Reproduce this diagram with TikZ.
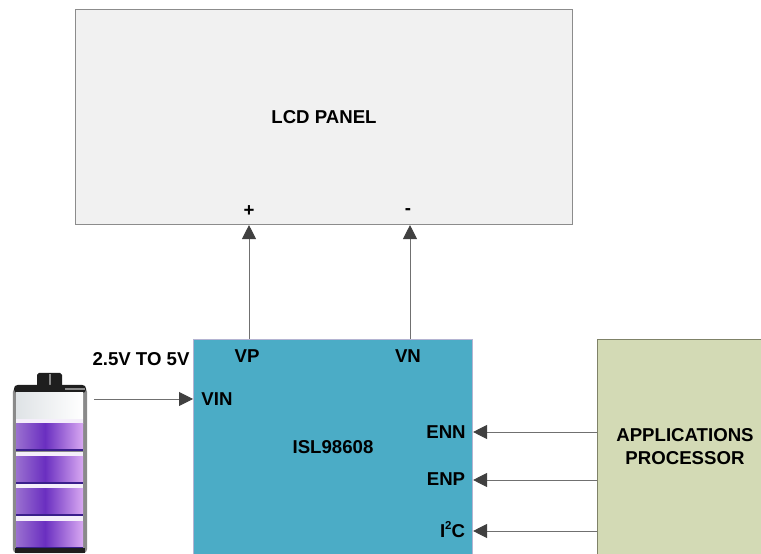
\documentclass[tikz,border=0pt]{standalone}
\usepackage{fontspec}
\setmainfont{Liberation Sans}
\usetikzlibrary{arrows.meta}
\definecolor{lcdgray}{HTML}{F1F1F1}
\definecolor{lcdline}{HTML}{8C8C8C}
\definecolor{islblue}{HTML}{4BACC6}
\definecolor{islline}{HTML}{B4B4D2}
\definecolor{apgreen}{HTML}{D3DAB5}
\definecolor{apline}{HTML}{7F8268}
\definecolor{wiregray}{HTML}{707070}
\definecolor{tipgray}{HTML}{404040}
\definecolor{battdark}{HTML}{1E1E1E}
\definecolor{battrim}{HTML}{8A8A8A}
\definecolor{battwhite}{HTML}{DFE3E6}
\definecolor{battpurple}{HTML}{6A2FC0}
\definecolor{battlight}{HTML}{D8A8F2}
\definecolor{battedge}{HTML}{9A70D0}
\definecolor{battstripe}{HTML}{F4EEFA}
\definecolor{battline}{HTML}{3A1E8C}
\tikzset{
  wire/.style={draw=wiregray, line width=0.55pt, -{Triangle[length=0.28cm, width=0.28cm, color=tipgray]}},
  blockbox/.style={rectangle, anchor=north west, inner sep=0pt, line width=0.6pt},
  pinlabel/.style={font=\fontsize{10.6}{13}\selectfont\bfseries, text=black, inner sep=0pt, align=center}
}
\begin{document}
\begin{tikzpicture}
  \clip[use as bounding box] (0,0) rectangle (15.22,11.06);
  % blocks
  \node[blockbox, fill=lcdgray, draw=lcdline, minimum width=9.94cm, minimum height=4.3cm] (lcd) at (1.5,10.88) {};
  \node[blockbox, fill=islblue, draw=islline, minimum width=5.58cm, minimum height=6cm] (isl) at (3.86,4.28) {};
  \node[blockbox, fill=apgreen, draw=apline, minimum width=5cm, minimum height=6cm] (ap) at (11.94,4.28) {};
  % battery
  \fill[battdark, rounded corners=1pt] (0.74,3.32) rectangle (1.24,3.6);
  \fill[battrim] (0.97,3.32) rectangle (1.01,3.58);
  \fill[battrim, rounded corners=2pt] (0.26,0) rectangle (1.74,3.3);
  \fill[battdark, rounded corners=2pt] (0.28,3.2) rectangle (1.72,3.36);
  \fill[battrim] (1.3,3.26) rectangle (1.7,3.3);
  \shade[left color=battwhite, right color=white] (0.32,2.58) rectangle (1.66,3.2);
  \foreach \y in {0.1, 0.74, 1.38, 2.04} {
    \fill[battstripe] (0.32,\y) rectangle (1.66,\y+0.64);
    \shade[left color=battedge, right color=battpurple] (0.32,\y) rectangle (0.9,\y+0.54);
    \shade[left color=battpurple, right color=battlight] (0.9,\y) rectangle (1.66,\y+0.54);
    \fill[battline] (0.32,\y) rectangle (1.66,\y+0.03);
  }
  \fill[battdark] (0.3,0) rectangle (1.7,0.1);
  % labels
  \node[pinlabel] (lcdname) at (6.48,8.72) {LCD PANEL};
  \node[pinlabel] (plus) at (4.98,6.84) {+};
  \node[pinlabel] (minus) at (8.16,6.82) {-};
  \node[pinlabel] (vinrange) at (2.82,3.88) {2.5V TO 5V};
  \node[pinlabel] (vp) at (4.94,3.94) {VP};
  \node[pinlabel] (vn) at (8.16,3.94) {VN};
  \node[pinlabel] (vin) at (4.34,3.08) {VIN};
  \node[pinlabel] (islname) at (6.66,2.12) {ISL98608};
  \node[pinlabel] (enn) at (8.92,2.42) {ENN};
  \node[pinlabel] (enp) at (8.92,1.48) {ENP};
  \node[pinlabel] (itc) at (9.05,0.46) {I\raisebox{0.42em}{\fontsize{6.5}{7}\selectfont\bfseries 2}C};
  \node[pinlabel] (apname) at (13.7,2.12) {APPLICATIONS\\PROCESSOR};
  % connectors
  \coordinate (vpout) at (4.98,4.28);
  \coordinate (vnout) at (8.2,4.28);
  \coordinate (battout) at (1.88,3.08);
  \coordinate (ennin) at (11.94,2.42);
  \coordinate (enpin) at (11.94,1.46);
  \coordinate (itcin) at (11.94,0.44);
  \draw[wire] (vpout) -- (vpout |- lcd.south);
  \draw[wire] (vnout) -- (vnout |- lcd.south);
  \draw[wire] (battout) -- (battout -| isl.west);
  \draw[wire] (ennin) -- (ennin -| isl.east);
  \draw[wire] (enpin) -- (enpin -| isl.east);
  \draw[wire] (itcin) -- (itcin -| isl.east);
\end{tikzpicture}
\end{document}
